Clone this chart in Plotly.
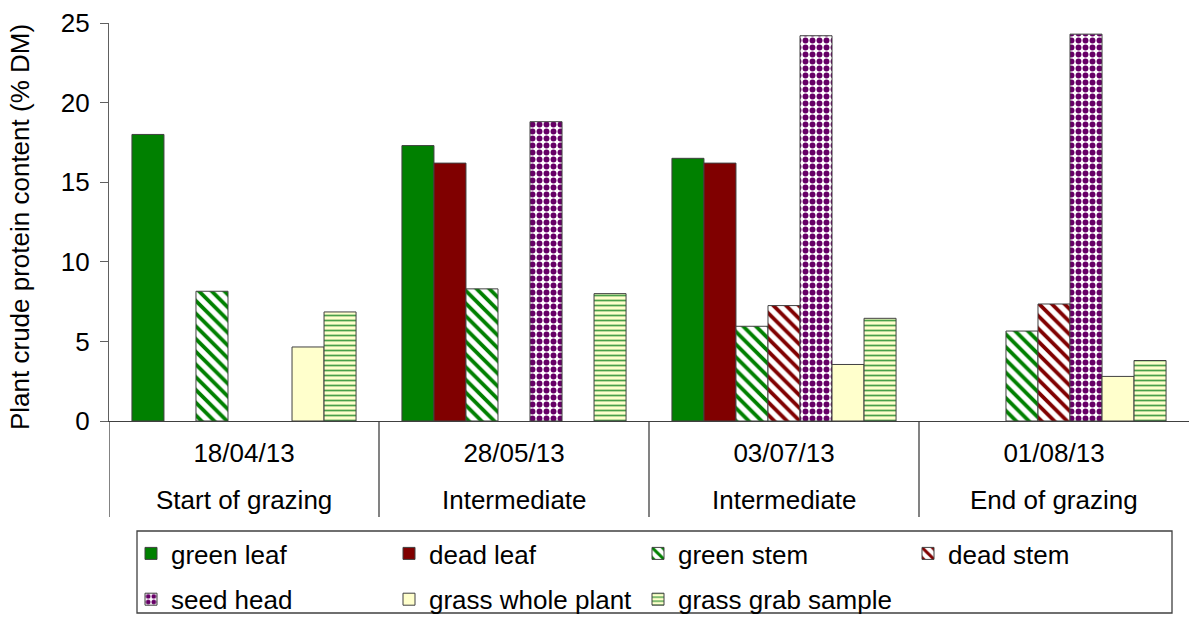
import plotly.graph_objects as go

dates = ["18/04/13", "28/05/13", "03/07/13", "01/08/13"]
stages = ["Start of grazing", "Intermediate", "Intermediate", "End of grazing"]

series_names = ["green leaf", "dead leaf", "green stem", "dead stem",
                "seed head", "grass whole plant", "grass grab sample"]
green_leaf = [18.0, 17.3, 16.5, None]
dead_leaf = [None, 16.2, 16.2, None]
green_stem = [8.15, 8.3, 5.95, 5.65]
dead_stem = [None, None, 7.25, 7.35]
seed_head = [None, 18.8, 24.2, 24.3]
grass_whole_plant = [4.65, None, 3.55, 2.8]
grass_grab_sample = [6.85, 8.0, 6.45, 3.8]

values = [green_leaf, dead_leaf, green_stem, dead_stem,
          seed_head, grass_whole_plant, grass_grab_sample]

FONT = "Liberation Sans, Arial, sans-serif"
FS = 26

styles = [
    dict(color="#008000", pattern=dict(shape="")),
    dict(color="#800000", pattern=dict(shape="")),
    dict(color="white", pattern=dict(shape="\\", fgcolor="#008000", bgcolor="white", size=9, solidity=0.42, fgopacity=1)),
    dict(color="white", pattern=dict(shape="\\", fgcolor="#800000", bgcolor="white", size=9, solidity=0.42, fgopacity=1)),
    dict(color="white", pattern=dict(shape=".", fgcolor="#660066", bgcolor="white", size=7, solidity=0.55, fgopacity=1)),
    dict(color="#FFFFCC", pattern=dict(shape="")),
    dict(color="#FFFFCC", pattern=dict(shape="-", fgcolor="#4AA04A", bgcolor="#FFFFCC", size=5, solidity=0.35, fgopacity=1)),
]
legend_ids = ["legend", "legend2", "legend3", "legend4", "legend", "legend2", "legend3"]

fig = go.Figure()
for name, vals, st, lg in zip(series_names, values, styles, legend_ids):
    fig.add_trace(go.Bar(
        x=dates, y=vals, name=name, legend=lg, legendgroup=name,
        marker=dict(color=st["color"], pattern=st["pattern"],
                    line=dict(color="#404040", width=1)),
    ))

# layout geometry (pixels)
W, H = 1189, 621
L, R, T, B = 109, 0, 23, 200
ph = H - T - B
pw = W - L - R


def py(p):
    return (H - B - p) / ph


def px(p):
    return (p - L) / pw


shapes = []
for xb in [-0.5, 0.5, 1.5, 2.5]:
    shapes.append(dict(type="line", xref="x", yref="paper", x0=xb, x1=xb,
                       y0=0, y1=py(517), line=dict(color="#404040", width=1.3)))
shapes.append(dict(type="rect", xref="paper", yref="paper",
                   x0=px(137), x1=px(1172), y0=py(531), y1=py(613),
                   line=dict(color="#404040", width=1.3), fillcolor="rgba(0,0,0,0)"))

annotations = []
for d, s in zip(dates, stages):
    annotations.append(dict(x=d, y=py(500), xref="x", yref="paper", text=s,
                            showarrow=False, yanchor="middle",
                            font=dict(family=FONT, size=FS, color="#000000")))
annotations.append(dict(x=px(20), y=py(227), xref="paper", yref="paper",
                        text="Plant crude protein content (% DM)", textangle=-90,
                        showarrow=False, xanchor="center", yanchor="middle",
                        font=dict(family=FONT, size=FS, color="#000000")))

legend_common = dict(orientation="v", xref="container", yref="container",
                     yanchor="top", xanchor="left", bgcolor="rgba(0,0,0,0)",
                     borderwidth=0, tracegroupgap=9,
                     font=dict(family=FONT, size=FS, color="#000000"))
col_text_x = [173, 431, 680, 950]
leg_top = 530
legs = {}
for key, tx in zip(["legend", "legend2", "legend3", "legend4"], col_text_x):
    legs[key] = dict(legend_common, x=(tx - 42) / W, y=(H - leg_top) / H)

fig.update_layout(
    width=W, height=H,
    margin=dict(l=L, r=R, t=T, b=B, autoexpand=False),
    paper_bgcolor="white", plot_bgcolor="white",
    barmode="group", bargap=0.17, bargroupgap=0,
    showlegend=True,
    font=dict(family=FONT, size=FS, color="#000000"),
    xaxis=dict(type="category", categoryorder="array", categoryarray=dates,
               range=[-0.5, 3.5], showline=True, linecolor="#404040", linewidth=1.3,
               ticks="", showgrid=False, zeroline=False, ticklabelstandoff=9,
               tickfont=dict(family=FONT, size=FS, color="#000000")),
    yaxis=dict(range=[0, 25], dtick=5, tick0=0, showline=True, linecolor="#606060",
               linewidth=1.3, ticks="outside", ticklen=8, tickcolor="#606060",
               tickwidth=1.3, showgrid=False, zeroline=False, ticklabelstandoff=5,
               tickfont=dict(family=FONT, size=FS, color="#000000")),
    shapes=shapes, annotations=annotations,
    **legs,
)

fig.write_html("out.html", config={"displayModeBar": False},
               post_script="document.body.style.margin='0';")
